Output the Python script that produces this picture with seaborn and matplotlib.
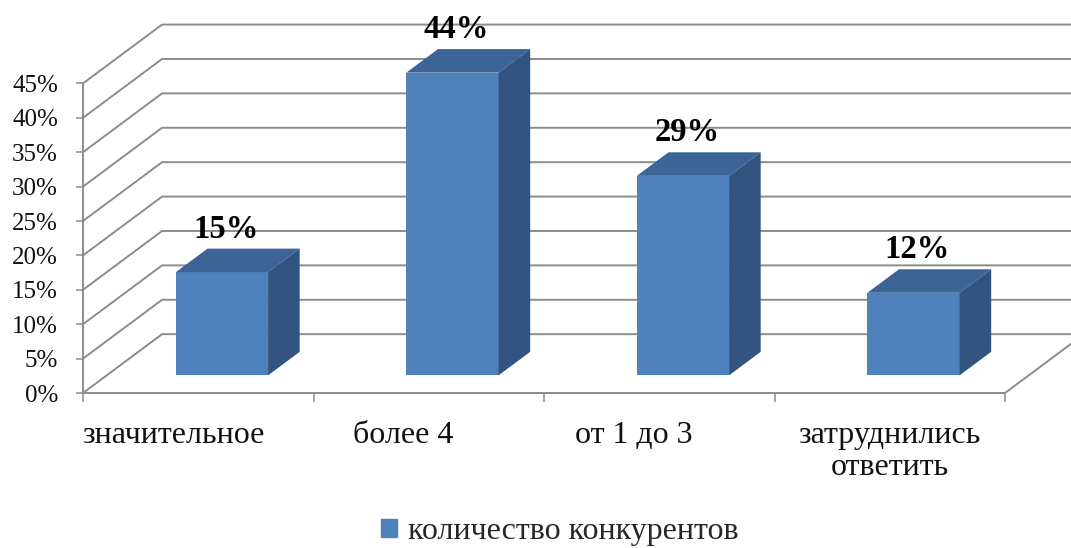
import matplotlib
matplotlib.use("Agg")
import matplotlib.pyplot as plt
from matplotlib.patches import Patch
import seaborn as sns

# Data
categories = ["значительное", "более 4", "от 1 до 3", "затруднились\nответить"]
shares = [15, 44, 29, 12]
series_name = "количество конкурентов"
y_ticks = [0, 5, 10, 15, 20, 25, 30, 35, 40, 45]

sns.set_style("white")
plt.rcParams["font.family"] = ["Liberation Serif", "DejaVu Serif"]

FRONT = "#4f81bd"
TOP = "#3c6496"
SIDE = "#325480"
GRID = "#8c8c8c"

# oblique depth of the 3-D box, in data units (x: categories, y: percent)
DX, DY = 0.343, 8.55
BAR_W = 0.4
D0, D1 = 0.3, 0.7          # bar depth span inside the box
PX_PER_PCT = 6.88          # vertical scale: pixels per percent

fig = plt.figure(figsize=(10.71, 5.48), dpi=100)
W, H = 1071, 548
ax = fig.add_axes([83 / W, 155 / H, 988 / W, 393 / H])

n = len(categories)
# back wall + floor grid
for v in y_ticks:
    ax.plot([0, DX, n + DX + 1], [v, v + DY, v + DY], color=GRID, lw=1.4,
            solid_capstyle="butt", zorder=1)
ax.plot([n, n + DX], [0, DY], color=GRID, lw=1.4, zorder=1)

# front faces of the bars, shifted back by the bar depth offset
front_x = [i + 0.5 + D0 * DX for i in range(n)]
sns.barplot(x=front_x, y=shares, native_scale=True, width=BAR_W,
            bottom=D0 * DY, color=FRONT, saturation=1, linewidth=0,
            errorbar=None, ax=ax, zorder=3)

ddx, ddy = (D1 - D0) * DX, (D1 - D0) * DY
for p, v in zip(ax.patches, shares):
    x0, y0 = p.get_x(), p.get_y()
    x1, y1 = x0 + p.get_width(), y0 + p.get_height()
    ax.fill([x0, x1, x1 + ddx, x0 + ddx], [y1, y1, y1 + ddy, y1 + ddy],
            color=TOP, lw=0, zorder=3)
    ax.fill([x1, x1 + ddx, x1 + ddx, x1], [y0, y0 + ddy, y1 + ddy, y1],
            color=SIDE, lw=0, zorder=3)

# value labels
for i, v in enumerate(shares):
    ax.text(i + 0.5 + 0.35 * DX, v + 7.6, f"{v}%", ha="center", va="baseline",
            fontsize=23.5, fontweight="bold", color="black", zorder=5)

# category labels under the floor, one text per line
line_h = 32 / PX_PER_PCT
for i, c in enumerate(categories):
    lines = c.split("\n")
    shift = 0.0 if len(lines) > 1 else -0.11
    for k, line in enumerate(lines):
        ax.text(i + 0.5 + shift, -7.3 - k * line_h, line, ha="center",
                va="baseline", fontsize=23, color="#111111", clip_on=False)

ax.set_xlim(0, 988 / 230.5)
ax.set_ylim(0, 393 / PX_PER_PCT)

ax.set_yticks(y_ticks)
ax.set_yticklabels([f"{v}%" for v in y_ticks])
ax.set_xticks(range(n + 1))
ax.set_xticklabels([])
ax.tick_params(axis="y", left=True, length=5, width=1.1, color=GRID, pad=13,
               labelsize=18, labelcolor="#111111")
ax.tick_params(axis="x", bottom=True, length=6.5, width=1.1, color=GRID)
for s in ["top", "right"]:
    ax.spines[s].set_visible(False)
for s in ["left", "bottom"]:
    ax.spines[s].set_color(GRID)
    ax.spines[s].set_linewidth(1.4)
ax.spines["left"].set_bounds(0, y_ticks[-1])
ax.spines["bottom"].set_bounds(0, n)
ax.set_xlabel("")
ax.set_ylabel("")

fig.legend(handles=[Patch(color=FRONT)], labels=[series_name], loc="center",
           bbox_to_anchor=(560 / W, 1 - 532 / H), frameon=False, fontsize=23,
           handlelength=0.5, handleheight=0.5, handletextpad=0.35)

fig.savefig("out.png", dpi=100)
